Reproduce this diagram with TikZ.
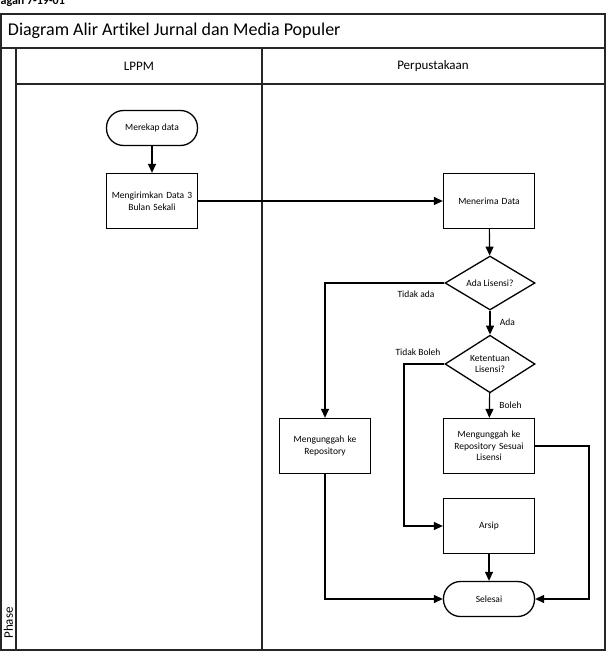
\documentclass[tikz,border=0pt]{standalone}
\usepackage{fontspec}
\setmainfont{Carlito}[Ligatures={NoCommon}]
\usetikzlibrary{shapes.geometric,arrows.meta}
\tikzset{
  proses/.style={draw, rectangle, line width=1.3pt, minimum width=91pt, minimum height=55pt, text width=86pt, align=center, inner sep=1pt},
  terminal/.style={draw, rectangle, rounded corners=17pt, line width=1.3pt, minimum width=91pt, minimum height=35pt, align=center},
  keputusan/.style={draw, diamond, line width=1.3pt, minimum width=90pt, minimum height=54pt, inner sep=0pt, align=center},
  bingkai/.style={line width=2pt, draw=black!85},
  ket/.style={font=\fontsize{9.5}{11}\selectfont}
}
\begin{document}
\begin{tikzpicture}[x=1pt, y=-1pt, >={Triangle[length=9pt,width=8pt]}, font=\fontsize{9.5}{11.5}\selectfont, line width=1.2pt]
	\useasboundingbox (0,0) rectangle (608,652);
	% kerangka swimlane
	\node[anchor=base west, font=\bfseries\fontsize{12}{14}\selectfont, inner sep=0pt] (cap) at (0,5) {agan 7-19-01};
	\draw[bingkai] (1,14) rectangle (605,650);
	\draw[bingkai] (1,48) -- (605,48);
	\draw[bingkai] (16,48) -- (16,650);
	\draw[bingkai] (16,84) -- (605,84);
	\draw[bingkai] (262,48) -- (262,650);
	\node[anchor=west, font=\fontsize{18}{20}\selectfont] (judul) at (4,31) {Diagram Alir Artikel Jurnal dan Media Populer};
	\node[font=\fontsize{13}{15}\selectfont] (lppm) at (139,66) {LPPM};
	\node[font=\fontsize{13}{15}\selectfont] (perpus) at (433,66) {Perpustakaan};
	\node[rotate=90, font=\fontsize{13}{15}\selectfont] (phase) at (8.5,623) {Phase};

	% simpul
	\node[terminal] (rekap) at (152,128) {Merekap data};
	\node[proses] (kirim) at (152,201) {Mengirimkan Data 3\\Bulan Sekali};
	\node[proses] (terima) at (489,201) {Menerima Data};
	\node[keputusan] (lisensi) at (490,283) {Ada Lisensi?};
	\node[keputusan] (ketentuan) at (490,364) {Ketentuan\\Lisensi?};
	\node[proses] (unggah) at (325,446) {Mengunggah ke\\Repository};
	\node[proses] (sesuai) at (489,446) {Mengunggah ke\\Repository Sesuai\\Lisensi};
	\node[proses] (arsip) at (489,526) {Arsip};
	\node[terminal] (selesai) at (489,599) {Selesai};
	\coordinate (belok1) at (404,364);
	\coordinate (belok2) at (589,446);

	% alur
	\draw[->] (rekap) -- (kirim);
	\draw[->] (kirim) -- (terima);
	\draw[->] (terima) -- (lisensi);
	\draw[->] (lisensi) -- (ketentuan) node[midway, right=6pt, ket] {Ada};
	\draw[->] (ketentuan) -- (sesuai) node[midway, right=6pt, ket] {Boleh};
	\draw[->] (lisensi.west) -| (unggah);
	\node[ket] (tidakada) at (416,294) {Tidak ada};
	\draw[->] (ketentuan.west) -- (belok1) |- (arsip);
	\node[ket] (tidakboleh) at (418,352) {Tidak Boleh};
	\draw[->] (arsip) -- (selesai);
	\draw[->] (unggah) |- (selesai);
	\draw[->] (sesuai.east) -- (belok2) |- (selesai);
\end{tikzpicture}
\end{document}
